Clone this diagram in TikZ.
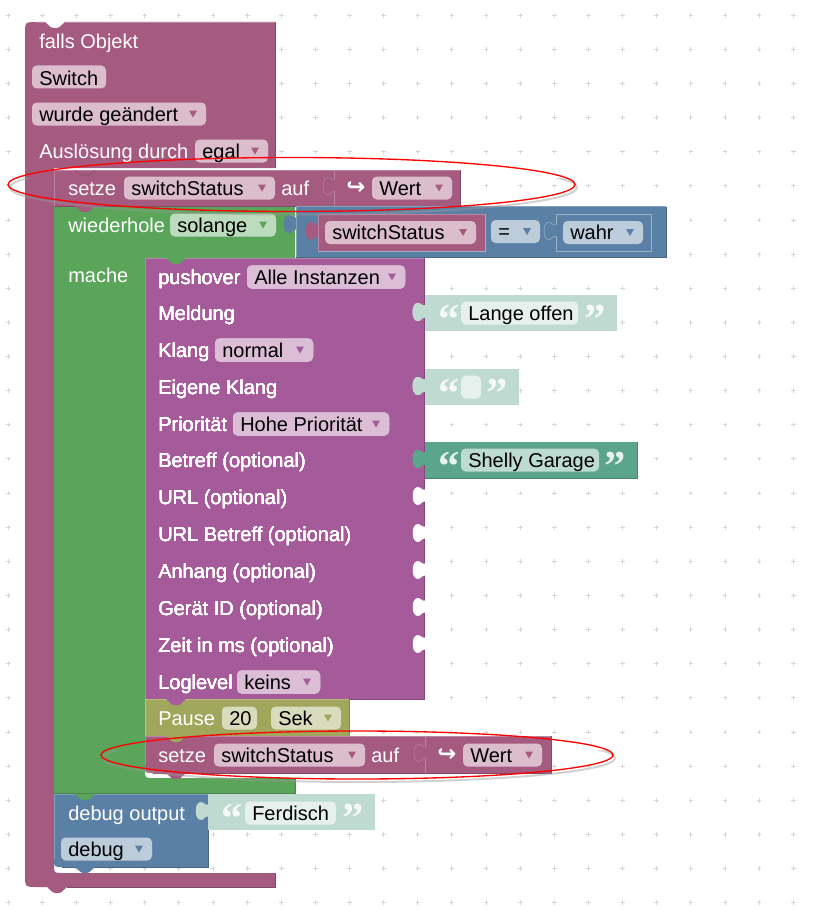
\documentclass[tikz,border=0pt]{standalone}
\usepackage{fontspec}
\setmainfont{Liberation Sans}
\newfontfamily\quotefont{Liberation Serif}
\newfontfamily\symbolfont{DejaVu Sans}
\definecolor{hatcol}{HTML}{A55B80}
\definecolor{hatfield}{HTML}{DBBDCC}
\definecolor{pushcol}{HTML}{A55B99}
\definecolor{pushfield}{HTML}{DBBDD6}
\definecolor{loopcol}{HTML}{5BA55B}
\definecolor{loopfield}{HTML}{BDDBBD}
\definecolor{bluecol}{HTML}{5B80A5}
\definecolor{bluefield}{HTML}{BDCCDB}
\definecolor{pausecol}{HTML}{A0A65B}
\definecolor{pausefield}{HTML}{D9DBBD}
\definecolor{strcol}{HTML}{5BA58C}
\definecolor{strfield}{HTML}{BDDBD1}
\definecolor{palecol}{HTML}{BFDAD1}
\definecolor{palefield}{HTML}{E6F1ED}
\definecolor{gridcol}{HTML}{D6D6D6}
\tikzset{
    blocktext/.style={anchor=base west,inner sep=0pt,font=\fontsize{15pt}{18pt}\selectfont,text=white},
    fieldtext/.style={blocktext,text=black},
    ringline/.style={draw=red,line width=1pt},
    ringshade/.style={draw=black!40,line width=1.5pt,opacity=0.45},
    quotetext/.style={blocktext,font=\fontsize{32pt}{32pt}\quotefont\bfseries},
    icontext/.style={blocktext,font=\fontsize{17pt}{18pt}\symbolfont\bfseries}
}
% #1-nazwa #2-x #3-srodek y #4-tekst
\newcommand{\blocklabel}[4]{%
    \node[blocktext] (#1) at (#2,#3+7) {#4};
}
% #1-nazwa #2-x1 #3-x2 #4-srodek y #5-kolor #6-tekst
\newcommand{\fieldbox}[6]{%
    \fill[#5,rounded corners=3.5pt] (#2,#4-11.5) rectangle (#3,#4+11.5);
    \node[fieldtext] (#1) at (#2+7,#4+7) {#6};
}
% jak fieldbox, #7-kolor trojkata
\newcommand{\dropbox}[7]{%
    \fieldbox{#1}{#2}{#3}{#4}{#5}{#6}
    \fill[#7] (#3-17,#4-3.5) -- (#3-9,#4-3.5) -- (#3-13,#4+3.5) -- cycle;
}
% #1-x1 #2-y1 #3-x2 #4-y2 #5-kolor #6-promien dolnego rogu
\newcommand{\stackblock}[6]{%
    \fill[#5] (#1,#2) -- (#3,#2) -- (#3,#4) -- (#1+#6,#4) .. controls (#1,#4) .. (#1,#4-#6) -- cycle;
    \draw[#5!80!black] (#3,#2) -- (#3,#4) -- (#1+#6,#4);
    \draw[#5!75!white] (#1,#4-#6) -- (#1,#2) -- (#3,#2);
}
% #1-x #2-srodek y #3-wypelnienie #4-obrys
\newcommand{\puzzletab}[4]{%
    \fill[#3] (#1+1,#2-7) .. controls (#1-2,#2-7) and (#1-3,#2-7) .. (#1-5,#2-9)
        .. controls (#1-8,#2-11) and (#1-12,#2-9) .. (#1-12,#2-1)
        .. controls (#1-12,#2+7) and (#1-8,#2+9) .. (#1-5,#2+7)
        .. controls (#1-3,#2+5) and (#1-2,#2+4) .. (#1+1,#2+4) -- cycle;
    \draw[#4] (#1,#2-7) .. controls (#1-2,#2-7) and (#1-3,#2-7) .. (#1-5,#2-9)
        .. controls (#1-8,#2-11) and (#1-12,#2-9) .. (#1-12,#2-1)
        .. controls (#1-12,#2+7) and (#1-8,#2+9) .. (#1-5,#2+7)
        .. controls (#1-3,#2+5) and (#1-2,#2+4) .. (#1,#2+4);
}
% #1-x #2-y #3-kolor
\newcommand{\notchtab}[3]{%
    \fill[#3] (#1,#2) -- (#1+5.5,#2+5) .. controls (#1+6.5,#2+6) .. (#1+8,#2+6) -- (#1+12,#2+6)
        .. controls (#1+13.5,#2+6) .. (#1+14.5,#2+5) -- (#1+20,#2) -- cycle;
}
% #1-nazwa #2-x1 #3-x2 #4-srodek y #5-kolor bloku
\newcommand{\stringblock}[5]{%
    \puzzletab{#2}{#4}{#5}{#5}
    \fill[#5] (#2,#4-18) rectangle (#3,#4+18);
    \node[quotetext,text=white!85!#5] (#1l) at (#2+13,#4+20) {“};
    \node[quotetext,text=white!85!#5] (#1r) at (#3-33,#4+20) {”};
}
\begin{document}
\begin{tikzpicture}[x=0.75pt,y=-0.75pt]
    \useasboundingbox (0,0) rectangle (823,924);
    % kratka
    \foreach \gx in {0,...,23}
        \foreach \gy in {0,...,26}
            \draw[gridcol,line width=0.75pt] ({8.3+34.13*\gx-2.3},{15.3+34.13*\gy}) -- ++(4.6,0)
                ({8.3+34.13*\gx},{15.3+34.13*\gy-2.3}) -- ++(0,4.6);
    % falls Objekt
    \fill[hatcol] (37,22) -- (45,22) -- (50.5,27) -- (53,28) -- (57,28) -- (59.5,27) -- (65,22)
        -- (275,22) -- (275,168) -- (54,168) -- (54,865) .. controls (54,873) .. (62,873) -- (275,873) -- (275,887)
        -- (67,887) -- (61.5,892) -- (59,893) -- (55,893) -- (52.5,892) -- (47,887)
        -- (37,887) .. controls (25,887) .. (25,875) -- (25,34) .. controls (25,22) .. (37,22) -- cycle;
    \draw[hatcol!80!black] (275,22) -- (275,168) (275,873) -- (275,887) -- (67,887);
    \draw[hatcol!75!white] (37,22) -- (45,22) (65,22) -- (275,22);
    \blocklabel{fallsObj}{39}{41.5}{falls Objekt}
    \fill[hatfield,rounded corners=3.5pt] (32,65.5) rectangle (106,88.5);
    \node[fieldtext] (switchName) at (39,85) {Switch};
    \dropbox{changeMode}{32}{206}{114}{hatfield}{wurde geändert}{hatcol}
    \blocklabel{trigger}{39}{151}{Auslösung durch}
    \dropbox{triggerMode}{195}{268}{151}{hatfield}{egal}{hatcol}
    % wiederhole
    \fill[loopcol] (54,206) -- (295,206) -- (295,258) -- (145,258) -- (145,770) .. controls (145,778) .. (153,778)
        -- (295,778) -- (295,793) -- (54,793) -- cycle;
    \draw[loopcol!80!black] (295,778) -- (295,793) -- (54,793);
    \blocklabel{loopLabel}{68}{225}{wiederhole}
    \dropbox{loopMode}{170}{276}{225}{loopfield}{solange}{loopcol}
    \blocklabel{doLabel}{68}{275}{mache}
    % setze oben
    \stackblock{54}{170}{334}{206}{hatcol}{0}
    \stackblock{334}{170}{460}{206}{hatcol}{0}
    \draw[hatcol!85!black] (75,170) -- (81,175) -- (89,175) -- (95,170);
    \notchtab{75}{206}{hatcol}
    \blocklabel{setOne}{68}{188}{setze}
    \dropbox{setOneVar}{124}{275}{188}{hatfield}{switchStatus}{hatcol}
    \blocklabel{setOneTo}{281}{188}{auf}
    \puzzletab{335}{187}{hatcol}{hatcol!78!white}
    \node[icontext] (setOneIcon) at (346,194) {↪};
    \dropbox{setOneVal}{372}{452}{188}{hatfield}{Wert}{hatcol}
    % vergleich
    \puzzletab{296}{225}{bluecol}{bluecol}
    \stackblock{296}{206.5}{666}{257}{bluecol}{0}
    \puzzletab{318}{232}{hatcol}{hatcol}
    \stackblock{318}{214}{485}{251}{hatcol}{0}
    \draw[bluecol!60!white] (318,251) -- (485,251) -- (485,214);
    \dropbox{cmpVar}{325}{476}{232.5}{hatfield}{switchStatus}{hatcol}
    \dropbox{cmpOp}{491}{540}{231.5}{bluefield}{=}{bluecol}
    \fill[bluecol] (556,214) rectangle (651,251);
    \draw[bluecol!60!white] (556,214) -- (651,214) -- (651,251) -- (556,251) -- (556,214);
    \puzzletab{556}{232}{bluecol}{bluecol!60!white}
    \dropbox{cmpVal}{563}{643}{232.5}{bluefield}{wahr}{bluecol}
    % pushover
    \stackblock{145}{258}{424}{699}{pushcol}{0}
    \notchtab{166}{258}{loopcol}
    \foreach \rowy in {497,534,571,608,645}
        \puzzletab{425}{\rowy}{white}{white}
    \blocklabel{pushTitle}{158}{277}{pushover}
    \dropbox{pushInst}{247}{405}{277}{pushfield}{Alle Instanzen}{pushcol}
    \blocklabel{pushMsg}{158}{313}{Meldung}
    \blocklabel{pushSound}{158}{350}{Klang}
    \dropbox{pushSoundF}{215}{313}{350}{pushfield}{normal}{pushcol}
    \blocklabel{pushOwn}{158}{387}{Eigene Klang}
    \blocklabel{pushPrio}{158}{424}{Priorität}
    \dropbox{pushPrioF}{233}{389}{424}{pushfield}{Hohe Priorität}{pushcol}
    \blocklabel{pushSubj}{158}{460.5}{Betreff (optional)}
    \blocklabel{pushUrl}{158}{497.5}{URL (optional)}
    \blocklabel{pushUrlT}{158}{534}{URL Betreff (optional)}
    \blocklabel{pushAtt}{158}{571}{Anhang (optional)}
    \blocklabel{pushDev}{158}{608}{Gerät ID (optional)}
    \blocklabel{pushTime}{158}{645}{Zeit in ms (optional)}
    \blocklabel{pushLog}{158}{682}{Loglevel}
    \dropbox{pushLogF}{237}{320}{682}{pushfield}{keins}{pushcol}
    % texte
    \stringblock{msgQ}{425}{617}{313}{palecol}
    \fieldbox{msgText}{461}{578}{313}{palefield}{Lange offen}
    \stringblock{ownQ}{425}{519}{387}{palecol}
    \fieldbox{ownText}{461}{481}{387}{palefield}{}
    \stringblock{subjQ}{425}{637}{460}{strcol}
    \draw[strcol!80!black] (637,442) -- (637,478) -- (425,478);
    \fieldbox{subjText}{461}{599}{460}{strfield}{Shelly Garage}
    % pause
    \stackblock{145}{699}{349}{736}{pausecol}{0}
    \notchtab{166}{699}{pushcol}
    \blocklabel{pauseLabel}{158}{718}{Pause}
    \fieldbox{pauseVal}{222}{257}{718}{pausefield}{20}
    \dropbox{pauseUnit}{271}{341}{718}{pausefield}{Sek}{pausecol}
    % setze unten
    \stackblock{145}{736}{425}{773}{hatcol}{8}
    \stackblock{425}{736}{551}{773}{hatcol}{0}
    \notchtab{166}{736}{pausecol}
    \notchtab{166}{773}{hatcol}
    \blocklabel{setTwo}{158}{755}{setze}
    \dropbox{setTwoVar}{214}{365}{755}{hatfield}{switchStatus}{hatcol}
    \blocklabel{setTwoTo}{371}{755}{auf}
    \puzzletab{426}{754}{hatcol}{hatcol!78!white}
    \node[icontext] (setTwoIcon) at (437,761) {↪};
    \dropbox{setTwoVal}{463}{542}{755}{hatfield}{Wert}{hatcol}
    % debug
    \stackblock{54}{794}{208}{867}{bluecol}{8}
    \notchtab{75}{794}{loopcol}
    \notchtab{75}{867}{bluecol}
    \blocklabel{debugLabel}{68}{813}{debug output}
    \dropbox{debugLevel}{61}{152}{849}{bluefield}{debug}{bluecol}
    \stringblock{debugQ}{208}{375}{812}{palecol}
    \fieldbox{debugText}{245}{336}{813}{palefield}{Ferdisch}
    % ringe
    \begin{scope}
        \clip (0,178) rectangle (823,225);
        \path[ringshade] (293.5,187.5) ellipse (283.5 and 27);
    \end{scope}
    \begin{scope}
        \clip (0,750) rectangle (823,790);
        \path[ringshade] (359,758) ellipse (256 and 24);
    \end{scope}
    \path[ringline] (291.5,184.5) ellipse (283.5 and 27);
    \path[ringline] (357,755) ellipse (256 and 24);
\end{tikzpicture}
\end{document}
